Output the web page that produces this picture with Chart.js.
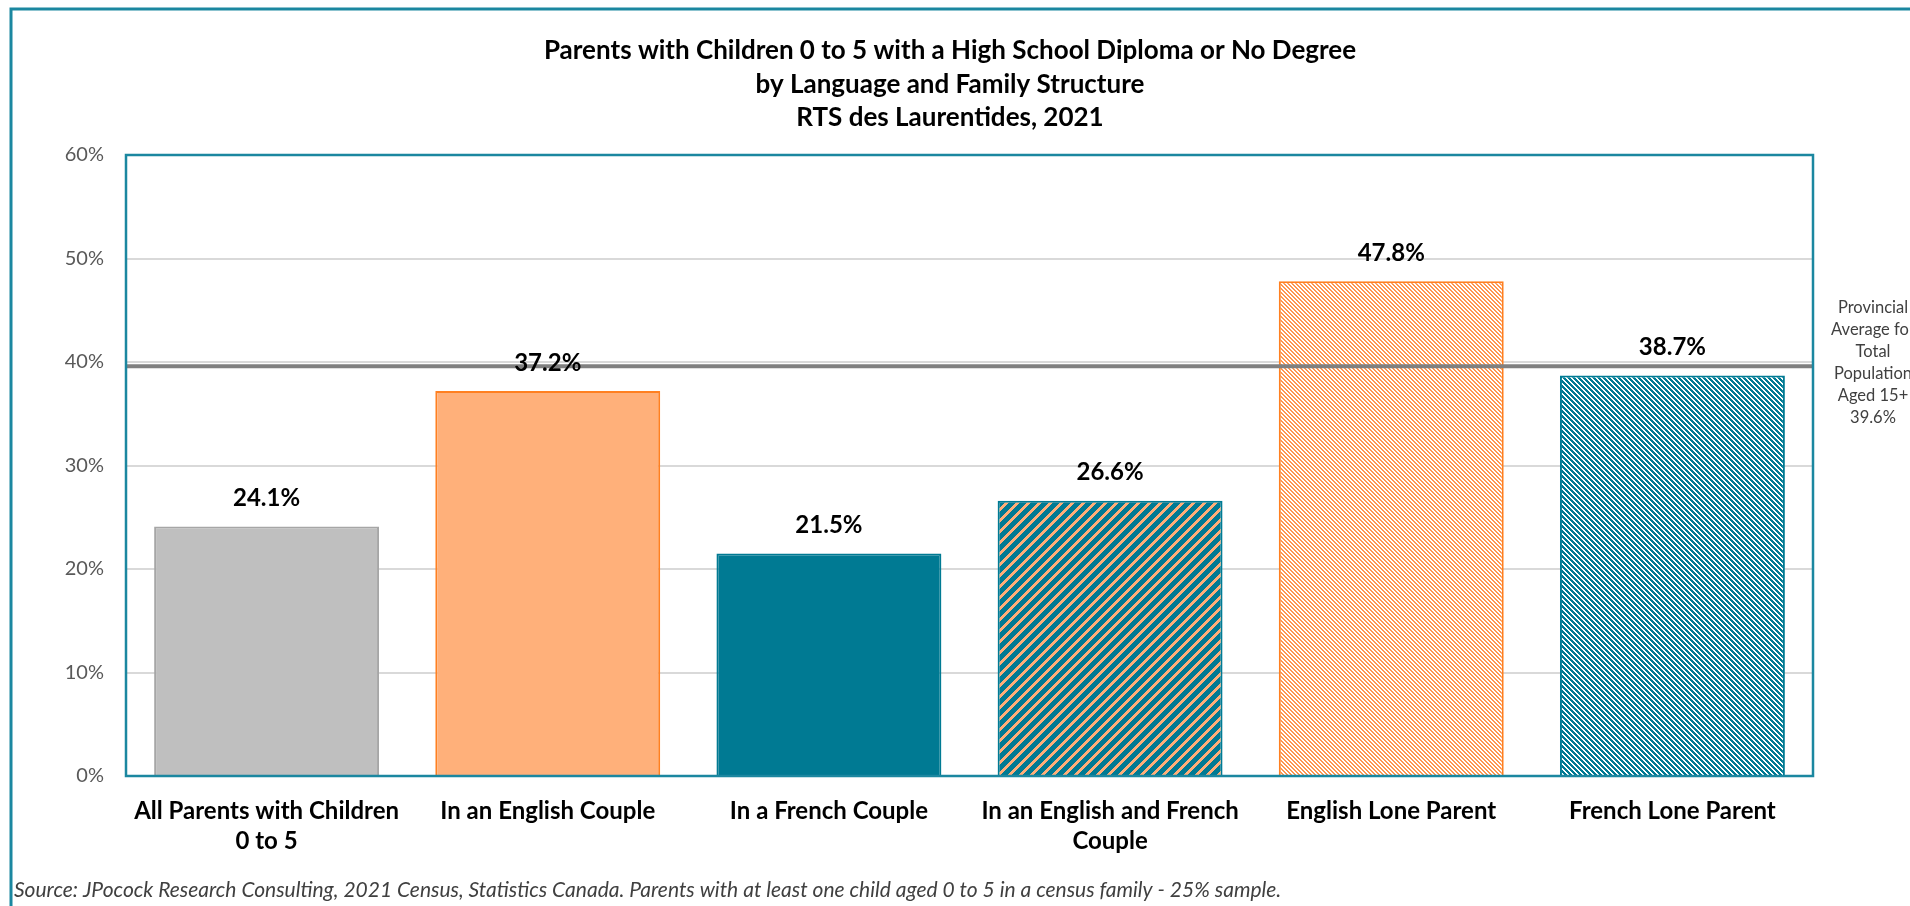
<!DOCTYPE html>
<html>
<head>
<meta charset="utf-8">
<script src="https://cdn.jsdelivr.net/npm/chart.js@4.4.1/dist/chart.umd.min.js"></script>
<style>
  html, body { margin: 0; padding: 0; background: #fff; overflow: hidden; }
  #wrap { width: 1910px; height: 906px; }
</style>
</head>
<body>
<div id="wrap"><canvas id="chart" width="1910" height="906"></canvas></div>
<script>
const titleLines = [
  'Parents with Children 0 to 5 with a High School Diploma or No Degree',
  'by Language and Family Structure',
  'RTS des Laurentides, 2021'
];
const categories = [
  ['All Parents with Children', '0 to 5'],
  'In an English Couple',
  'In a French Couple',
  ['In an English and French', 'Couple'],
  'English Lone Parent',
  'French Lone Parent'
];
const values = [24.1, 37.2, 21.5, 26.6, 47.8, 38.7];
const provincialAverage = 39.6;
const provincialLabel = ['Provincial', 'Average for', 'Total', 'Population', 'Aged 15+', '39.6%'];
const yTicks = [0, 10, 20, 30, 40, 50, 60];
const sourceNote = 'Source: JPocock Research Consulting, 2021 Census, Statistics Canada. Parents with at least one child aged 0 to 5 in a census family - 25% sample.';

const TEAL = '#007a93';
const ORANGE = '#ff8021';
const FONT = 'Lato, "Open Sans", sans-serif';

// 대각선 패턴 생성 (dir: 1 = '/', -1 = '\')
const makeStripes = (bg, fg, period, width, dir) => {
  const c = document.createElement('canvas');
  c.width = period;
  c.height = period;
  const g = c.getContext('2d');
  g.fillStyle = bg;
  g.fillRect(0, 0, period, period);
  g.fillStyle = fg;
  for (let x = 0; x < period; x++) {
    for (let y = 0; y < period; y++) {
      const k = dir > 0 ? (x + y) % period : ((x - y) % period + period) % period;
      if (k < width) g.fillRect(x, y, 1, 1);
    }
  }
  return g.createPattern(c, 'repeat');
};

const ctx = document.getElementById('chart').getContext('2d');

const fills = [
  '#bfbfbf',
  '#ffb07a',
  TEAL,
  makeStripes(TEAL, '#ffae78', 11, 4, 1),
  makeStripes('#ffffff', '#ff9650', 4, 2, -1),
  makeStripes('#ffffff', TEAL, 5, 3, -1)
];
const borders = ['#a6a6a6', ORANGE, TEAL, TEAL, ORANGE, TEAL];

// 제목, 테두리, 평균선, 값 라벨
const decorations = {
  id: 'decorations',
  afterDatasetsDraw(chart) {
    const { ctx: c, chartArea: a, scales } = chart;
    c.save();

    // 평균선
    const yAvg = scales.y.getPixelForValue(provincialAverage);
    c.strokeStyle = '#808080';
    c.lineWidth = 4;
    c.beginPath();
    c.moveTo(a.left, yAvg);
    c.lineTo(a.right, yAvg);
    c.stroke();

    // 플롯 테두리
    c.strokeStyle = '#1b87a0';
    c.lineWidth = 2.5;
    c.strokeRect(a.left, a.top, a.right - a.left, a.bottom - a.top);

    // 바깥 테두리
    c.lineWidth = 3;
    c.strokeRect(11, 9, 2000, 1000);

    // 값 라벨
    c.fillStyle = '#000';
    c.font = 'bold 24px ' + FONT;
    c.textAlign = 'center';
    c.textBaseline = 'middle';
    chart.getDatasetMeta(0).data.forEach((bar, i) => {
      c.fillText(values[i].toFixed(1) + '%', bar.x, bar.y - 28);
    });

    // 제목
    c.font = 'bold 26px ' + FONT;
    titleLines.forEach((t, i) => c.fillText(t, 950, 51 + i * 33.5));

    // 평균 설명
    c.fillStyle = '#404040';
    c.font = '16.5px ' + FONT;
    provincialLabel.forEach((t, i) => c.fillText(t, 1873, 308 + i * 22));

    // 출처
    c.textAlign = 'left';
    c.font = 'italic 21px ' + FONT;
    c.fillText(sourceNote, 14, 890);

    c.restore();
  }
};

new Chart(ctx, {
  type: 'bar',
  data: {
    labels: categories,
    datasets: [{
      data: values,
      backgroundColor: fills,
      borderColor: borders,
      borderWidth: 2,
      barPercentage: 0.8,
      categoryPercentage: 1
    }]
  },
  options: {
    responsive: false,
    animation: false,
    layout: { padding: { top: 155, right: 97, left: 0, bottom: 0 } },
    plugins: {
      legend: { display: false },
      tooltip: { enabled: false }
    },
    scales: {
      y: {
        min: 0,
        max: 60,
        afterFit: s => { s.width = 126; },
        afterBuildTicks: s => { s.ticks = yTicks.map(v => ({ value: v })); },
        grid: { color: '#d9d9d9', lineWidth: 2, drawTicks: false },
        border: { display: false },
        ticks: {
          padding: 22,
          color: '#595959',
          font: { family: FONT, size: 20 },
          callback: v => v + '%'
        }
      },
      x: {
        afterFit: s => { s.height = 130; },
        grid: { display: false, drawTicks: false },
        border: { display: false },
        ticks: {
          padding: 20,
          color: '#000',
          maxRotation: 0,
          autoSkip: false,
          font: { family: FONT, size: 24, weight: 'bold', lineHeight: 1.25 }
        }
      }
    }
  },
  plugins: [decorations]
});
</script>
</body>
</html>
